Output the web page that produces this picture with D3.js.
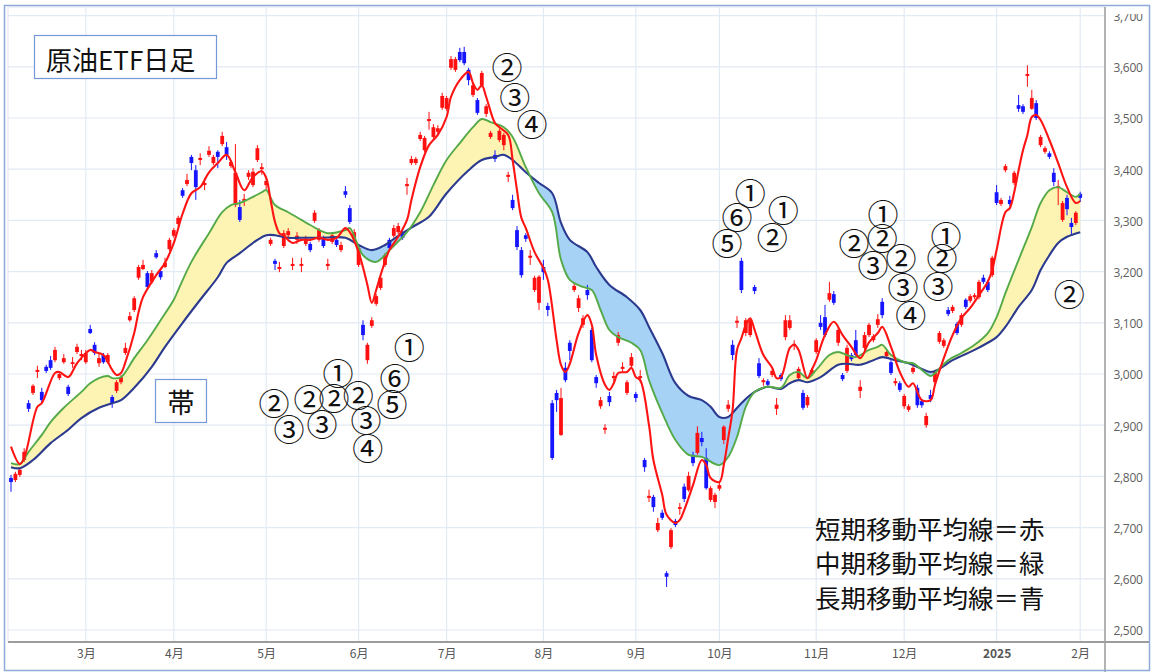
<!DOCTYPE html>
<html><head><meta charset="utf-8">
<script src="https://cdn.jsdelivr.net/npm/d3@7"></script>
<style>body{margin:0;background:#fff}svg{display:block}</style>
</head><body><svg id="c" width="1152" height="672"></svg>
<script>
// ---------------- data ----------------
const open=[
2797,2793,2803,2832,2943,2963,3004,2965,3014,3027,
3027,2992,3023,2975,3020,3043,3035,3023,3088,3057,
3021,3037,3023,2955,2967,2984,3041,3105,3125,3188,
3205,3197,3180,3236,3201,3209,3244,3270,3293,3359,
3371,3424,3398,3418,3369,3428,3412,3434,3449,3443,
3406,3330,3326,3338,3385,3369,3418,3400,3369,3254,
3221,3205,3250,3271,3211,3262,3211,3254,3254,3299,
3262,3266,3211,3258,3262,3242,3357,3324,3266,3213,
3096,3027,3094,3137,3168,3213,3262,3270,3277,3277,
3367,3412,3412,3459,3437,3494,3463,3473,3520,3518,
3598,3594,3629,3629,3594,3545,3535,3564,3508,3463,
3428,3457,3447,3385,3340,3281,3242,3271,3227,3164,
3139,3209,3133,2943,2963,2881,3012,3061,3164,3129,
3096,3164,3086,2994,2937,2891,2957,2992,3061,3010,
2963,3016,2961,2992,2832,2758,2760,2695,2729,2611,
2662,2713,2737,2780,2773,2842,2846,2875,2836,2754,
2750,2776,2871,2932,3057,3100,3221,3080,3076,3170,
3021,2984,2986,2998,2932,2998,3072,3090,3055,2992,
2963,2939,3000,3043,3100,3111,3145,3156,3061,2998,
3006,3037,3066,2967,3051,3076,3066,3096,3141,3035,
3023,2982,2982,2937,2930,3004,2973,2947,2900,2959,
2984,3063,3055,3125,3123,3098,3096,3145,3143,3150,
3150,3188,3180,3193,3355,3332,3398,3340,3373,3525,
3523,3582,3518,3529,3447,3434,3431,3393,3363,3301,
3344,3295,3295,3352];
const close=[
2789,2805,2813,2848,2932,2977,3008,2949,3006,3012,
3047,3000,3031,2961,3023,3053,3039,3041,3080,3041,
3031,3023,3037,2943,2984,2994,3051,3113,3148,3209,
3213,3170,3197,3228,3189,3217,3262,3281,3305,3348,
3379,3412,3365,3422,3373,3436,3424,3424,3465,3428,
3414,3393,3301,3342,3393,3395,3441,3404,3377,3262,
3215,3209,3275,3279,3215,3270,3215,3264,3242,3315,
3281,3250,3215,3271,3252,3252,3350,3297,3277,3246,
3076,3057,3105,3152,3188,3232,3246,3285,3289,3266,
3371,3420,3420,3467,3461,3498,3482,3480,3543,3539,
3615,3615,3613,3607,3574,3564,3510,3588,3523,3471,
3420,3475,3467,3389,3324,3248,3193,3264,3231,3188,
3190,3199,3125,2836,2949,2953,2988,3045,3172,3148,
3109,3154,3027,2982,2949,2895,2945,2996,3076,3014,
2984,3033,2953,2996,2818,2762,2740,2709,2719,2604,
2695,2705,2740,2756,2801,2826,2885,2867,2777,2777,
2764,2783,2897,2940,3037,3104,3164,3105,3105,3162,
2996,2988,2979,3006,2940,2990,3105,3105,3059,3010,
2934,2955,3008,3066,3092,3076,3158,3139,3086,2990,
3051,3029,3037,2975,3076,3096,3074,3107,3115,3043,
3002,2986,2969,2957,2937,3012,2939,2939,2918,2951,
3004,3080,3066,3117,3131,3080,3115,3131,3152,3154,
3180,3180,3164,3227,3334,3340,3406,3332,3393,3518,
3512,3586,3539,3500,3463,3441,3424,3375,3367,3334,
3322,3287,3315,3344];
const high=[
2803,2809,2816,2855,2949,2980,3016,2973,3018,3035,
3053,3004,3039,2979,3033,3059,3047,3047,3096,3062,
3039,3041,3041,2959,2988,2998,3061,3121,3152,3213,
3223,3201,3203,3242,3207,3227,3266,3285,3309,3363,
3391,3428,3408,3431,3383,3445,3428,3437,3473,3453,
3418,3449,3340,3352,3398,3402,3447,3412,3383,3266,
3225,3219,3281,3285,3227,3277,3227,3270,3258,3320,
3285,3270,3225,3275,3266,3258,3367,3330,3283,3250,
3105,3061,3111,3156,3192,3236,3266,3291,3295,3281,
3383,3426,3424,3473,3465,3512,3488,3486,3549,3543,
3621,3619,3637,3639,3598,3568,3539,3592,3527,3475,
3437,3479,3471,3395,3350,3289,3248,3275,3242,3192,
3193,3223,3139,2949,2969,2973,3023,3066,3178,3154,
3115,3174,3090,2998,2955,2902,2965,3004,3082,3023,
2988,3041,2965,3008,2836,2774,2764,2719,2735,2615,
2699,2717,2748,2786,2809,2848,2898,2887,2855,2781,
2768,2789,2900,2949,3066,3113,3227,3109,3109,3174,
3031,2992,2990,3010,2953,3002,3115,3115,3066,3014,
2969,2959,3012,3070,3115,3135,3180,3162,3092,3002,
3057,3041,3086,2988,3082,3100,3078,3117,3148,3047,
3027,2992,2986,2961,2941,3016,2979,2951,2924,2969,
3008,3084,3070,3131,3135,3102,3119,3148,3156,3158,
3184,3194,3184,3231,3369,3344,3410,3348,3397,3545,
3527,3603,3555,3535,3467,3445,3435,3402,3379,3338,
3350,3305,3318,3356];
const low=[
2770,2789,2799,2828,2926,2959,2992,2945,3002,3008,
3023,2988,3020,2957,3012,3039,3027,3020,3078,3037,
3014,3020,3020,2934,2963,2980,3037,3102,3121,3184,
3203,3164,3176,3225,3184,3207,3240,3266,3289,3344,
3367,3398,3340,3408,3359,3424,3408,3402,3445,3418,
3402,3326,3297,3328,3379,3365,3414,3389,3359,3250,
3203,3199,3246,3266,3203,3254,3199,3250,3238,3295,
3258,3246,3203,3254,3248,3238,3344,3293,3262,3209,
3066,3020,3090,3133,3164,3209,3242,3266,3273,3262,
3350,3408,3408,3455,3433,3477,3459,3469,3516,3514,
3594,3590,3609,3603,3564,3541,3506,3560,3502,3459,
3414,3453,3437,3375,3320,3242,3188,3258,3213,3160,
3125,3184,3113,2832,2926,2879,2984,3027,3160,3121,
3090,3145,3023,2973,2932,2883,2937,2984,3055,3004,
2959,3012,2945,2984,2809,2750,2731,2691,2715,2584,
2658,2701,2725,2750,2770,2820,2842,2859,2774,2750,
2738,2772,2863,2926,3027,3090,3158,3074,3072,3156,
2992,2977,2973,2994,2920,2986,3066,3086,3047,2988,
2930,2934,2996,3039,3086,3072,3141,3135,3055,2986,
3002,3025,3033,2953,3047,3072,3062,3090,3109,3031,
2998,2977,2965,2932,2926,3000,2934,2934,2895,2945,
2980,3059,3051,3113,3119,3076,3092,3127,3139,3146,
3146,3176,3160,3189,3330,3328,3394,3328,3369,3512,
3508,3561,3516,3496,3443,3430,3420,3367,3330,3297,
3310,3271,3291,3336];

// moving averages: [trading-day index, price]
const maShort=[[0,2858],[2,2824],[3,2836],[6,2936],[7,2943],[10,3002],[11,3004],[13,2994],[15,3021],[18,3047],[19,3043],[21,3037],[23,3008],[24,2998],[25,3002],[26,3023],[28,3080],[29,3121],[30,3150],[33,3193],[35,3217],[37,3256],[39,3313],[41,3353],[43,3365],[45,3394],[47,3412],[49,3428],[51,3394],[53,3359],[55,3385],[57,3396],[58,3383],[59,3340],[60,3297],[61,3275],[62,3270],[64,3256],[66,3262],[68,3262],[70,3266],[72,3262],[74,3266],[76,3285],[77,3277],[79,3238],[81,3174],[82,3139],[83,3164],[84,3193],[86,3242],[88,3268],[90,3301],[91,3340],[93,3404],[95,3447],[97,3467],[99,3502],[100,3541],[102,3574],[104,3590],[105,3568],[106,3555],[107,3564],[108,3541],[110,3490],[111,3482],[113,3467],[114,3418],[115,3359],[116,3305],[117,3285],[119,3238],[121,3207],[122,3184],[124,3066],[125,3018],[126,3004],[127,3020],[129,3080],[131,3115],[132,3096],[133,3037],[135,2979],[136,2969],[137,2982],[138,3002],[140,3004],[141,3012],[142,2994],[143,2988],[145,2900],[146,2832],[148,2764],[149,2725],[151,2709],[152,2715],[153,2734],[155,2783],[157,2832],[158,2822],[159,2797],[161,2789],[162,2822],[163,2875],[164,2930],[165,3047],[166,3070],[167,3096],[168,3109],[169,3086],[171,3037],[173,3012],[174,2992],[175,2994],[177,3051],[178,3057],[179,3047],[181,2992],[182,3008],[183,3027],[185,3076],[187,3102],[189,3076],[191,3053],[193,3031],[195,3062],[197,3080],[198,3092],[200,3053],[202,3004],[204,2975],[205,2982],[207,2949],[209,2949],[210,2979],[212,3031],[214,3076],[216,3109],[218,3129],[220,3154],[222,3180],[223,3203],[224,3242],[226,3316],[227,3324],[228,3355],[229,3398],[230,3437],[231,3467],[232,3502],[233,3506],[234,3496],[236,3457],[238,3412],[240,3365],[242,3334],[243,3338]];
const maMid=[[0,2826],[2,2824],[4,2848],[7,2881],[9,2906],[12,2934],[16,2965],[18,2982],[20,2992],[22,2996],[23,2992],[25,2994],[28,3031],[31,3066],[34,3105],[37,3145],[38,3164],[41,3219],[45,3275],[48,3316],[50,3330],[52,3334],[55,3346],[57,3355],[58,3359],[60,3330],[63,3316],[66,3301],[68,3291],[72,3275],[76,3281],[77,3285],[80,3232],[83,3219],[86,3242],[90,3277],[93,3316],[96,3369],[99,3418],[102,3451],[105,3482],[107,3498],[109,3492],[112,3482],[114,3463],[117,3404],[120,3353],[123,3316],[125,3223],[127,3184],[130,3170],[132,3164],[134,3125],[136,3086],[138,3072],[141,3061],[143,3047],[145,2988],[148,2924],[151,2871],[154,2842],[157,2838],[161,2822],[163,2838],[165,2877],[167,2936],[169,2965],[172,2975],[175,2973],[177,2998],[179,3004],[181,2992],[183,3008],[186,3037],[188,3043],[190,3037],[192,3033],[195,3047],[197,3053],[198,3057],[200,3037],[203,3023],[205,3021],[207,3008],[209,2996],[210,3002],[213,3027],[216,3041],[219,3057],[222,3080],[224,3111],[226,3158],[229,3223],[232,3287],[234,3334],[236,3359],[238,3365],[240,3355],[242,3346],[243,3352]];
const maLong=[[0,2818],[2,2816],[5,2832],[9,2865],[13,2891],[16,2914],[20,2934],[23,2943],[25,2949],[28,2973],[32,3014],[35,3053],[39,3100],[43,3145],[47,3189],[49,3217],[52,3236],[56,3262],[58,3271],[60,3271],[63,3266],[66,3266],[70,3266],[76,3266],[79,3252],[82,3242],[85,3252],[88,3270],[92,3291],[95,3307],[99,3353],[104,3398],[107,3418],[110,3424],[112,3428],[114,3418],[117,3394],[120,3373],[123,3353],[125,3295],[127,3262],[131,3238],[133,3209],[136,3174],[140,3150],[143,3125],[145,3092],[148,3041],[151,2982],[154,2957],[157,2949],[159,2936],[161,2916],[163,2916],[164,2924],[166,2943],[169,2965],[172,2975],[175,2971],[177,2982],[179,2988],[181,2984],[184,2994],[188,3018],[190,3020],[193,3018],[196,3027],[198,3033],[201,3027],[204,3021],[207,3010],[209,3004],[211,3010],[214,3027],[219,3047],[222,3061],[224,3072],[226,3092],[229,3131],[232,3164],[234,3203],[236,3232],[238,3256],[240,3268],[243,3277]];

const yTicks=[2500,2600,2700,2800,2900,3000,3100,3200,3300,3400,3500,3600,3700];
const monthIdx=[17,37,58,79,99,121,142,161,183,203,224,243];
const monthLabels=["3月","4月","5月","6月","7月","8月","9月","10月","11月","12月","2025","2月"];

// circled wave counts: [label, trading-day index, price]
const waveLabels=[
["②",112.7,3603],["③",114.5,3543],["④",118.4,3492],
["①",168,3357],["⑥",165,3309],["⑤",162.7,3258],["①",175.5,3324],["②",173,3270],
["①",198.2,3316],["②",191.6,3258],["②",198,3268],["③",195.9,3215],["②",202.3,3229],["③",202.7,3172],["④",204.5,3119],
["①",212.5,3273],["②",211.6,3229],["③",210.7,3174],["②",240.5,3160],
["①",90.5,3055],["⑥",87.3,2996],["⑤",86.6,2945],["①",74.3,3004],["②",59.8,2947],["②",67.7,2955],["②",73.4,2957],["②",78.9,2961],["③",63.2,2895],["③",70.7,2906],["③",80.7,2914],["④",81.1,2859]
];
const titleText="原油ETF日足";
const bandText="帯";
const legendLines=["短期移動平均線＝赤","中期移動平均線＝緑","長期移動平均線＝青"];

if(open.length!==244||close.length!==244||high.length!==244||low.length!==244)
  throw new Error("len "+open.length+" "+close.length+" "+high.length+" "+low.length);

// ---------------- drawing ----------------
const svg=d3.select("#c");
const P={l:8,t:7,r:1105,b:642};
const x=d3.scaleLinear().domain([0,243]).range([11,1080.2]);
const y=d3.scaleLinear().domain([2500,3700]).range([630,15.6]);
const CJK='"Noto Sans CJK JP","Noto Sans",sans-serif';

svg.append("rect").attr("width",1152).attr("height",672).attr("fill","#fff");

const defs=svg.append("defs");
defs.append("clipPath").attr("id","plotClip").append("rect")
  .attr("x",P.l).attr("y",P.t).attr("width",P.r-P.l).attr("height",P.b-P.t);

// grid
const grid=svg.append("g");
grid.selectAll("line.h").data(yTicks).join("line")
  .attr("x1",P.l).attr("x2",P.r).attr("y1",d=>y(d)).attr("y2",d=>y(d))
  .attr("stroke","#e2eaf3").attr("stroke-width",1.2);
grid.selectAll("line.v").data(monthIdx).join("line")
  .attr("x1",d=>x(d)).attr("x2",d=>x(d)).attr("y1",P.t).attr("y2",P.b)
  .attr("stroke","#e2eaf3").attr("stroke-width",1.2);
grid.append("line").attr("x1",P.l).attr("x2",P.r).attr("y1",P.t).attr("y2",P.t).attr("stroke","#dfe7f0");
grid.append("line").attr("x1",P.l).attr("x2",P.l).attr("y1",P.t).attr("y2",P.b).attr("stroke","#dfe7f0");

const g=svg.append("g").attr("clip-path","url(#plotClip)");
const pts=a=>a.map(([i,v])=>[x(i),y(v)]);
const lineGen=d3.line().curve(d3.curveCatmullRom.alpha(0.5));
const midP=pts(maMid), longP=pts(maLong), shortP=pts(maShort);
const band=lineGen(midP)+lineGen(longP.slice().reverse()).replace(/^M/,"L")+"Z";
const longPath=lineGen(longP);
const x0=x(0)-20,x1=x(243)+20;
defs.append("clipPath").attr("id","aboveLong").append("path")
  .attr("d",longPath+`L${x1},${longP[longP.length-1][1]}L${x1},0L${x0},0L${x0},${longP[0][1]}Z`);
defs.append("clipPath").attr("id","belowLong").append("path")
  .attr("d",longPath+`L${x1},${longP[longP.length-1][1]}L${x1},700L${x0},700L${x0},${longP[0][1]}Z`);
g.append("path").attr("d",band).attr("fill","#fdf3b3").attr("clip-path","url(#aboveLong)");
g.append("path").attr("d",band).attr("fill","#a5d2f5").attr("clip-path","url(#belowLong)");

// candles
const idx=d3.range(open.length);
const col=i=>close[i]>=open[i]?"#ff1010":"#1515ff";
const cg=g.append("g");
cg.selectAll("line").data(idx).join("line")
  .attr("x1",i=>x(i)).attr("x2",i=>x(i))
  .attr("y1",i=>y(high[i])).attr("y2",i=>y(low[i]))
  .attr("stroke",col).attr("stroke-width",1);
cg.selectAll("rect").data(idx).join("rect")
  .attr("x",i=>x(i)-1.9).attr("width",3.8)
  .attr("y",i=>y(Math.max(open[i],close[i])))
  .attr("height",i=>Math.max(1.8,Math.abs(y(open[i])-y(close[i]))))
  .attr("fill",col);

// MA lines
g.append("path").attr("d",longPath).attr("fill","none").attr("stroke","#2b3a8f").attr("stroke-width",2.1);
g.append("path").attr("d",lineGen(midP)).attr("fill","none").attr("stroke","#55aa48").attr("stroke-width",1.9);
g.append("path").attr("d",lineGen(shortP)).attr("fill","none").attr("stroke","#ff1414").attr("stroke-width",2.1);

// axes
const ya=svg.append("g").attr("transform","translate(1128,1)")
  .call(d3.axisRight(y).tickValues(yTicks).tickFormat(d3.format(",")).tickSize(0).tickPadding(0));
ya.select(".domain").remove();
defs.append("clipPath").attr("id","yLabClip").append("rect").attr("x",-25).attr("y",13).attr("width",50).attr("height",650);
ya.attr("clip-path","url(#yLabClip)");
ya.selectAll("text").attr("text-anchor","middle").attr("x",0)
  .attr("fill","#606060").style("font-size","12px").style("font-family","'Open Sans',sans-serif")
  .style("letter-spacing","-0.3px");
const xa=svg.append("g").attr("transform","translate(0,649)")
  .call(d3.axisBottom(x).tickValues(monthIdx).tickFormat((d,i)=>monthLabels[i]).tickSize(0).tickPadding(0));
xa.select(".domain").remove();
xa.selectAll("text").attr("fill","#555").style("font-size","12px").style("font-family",CJK)
  .style("font-weight",(d,i)=>monthLabels[i]==="2025"?"bold":"normal");

svg.append("line").attr("x1",P.r).attr("x2",P.r).attr("y1",P.t).attr("y2",672).attr("stroke","#8a8a8a").attr("stroke-width",1.3);
svg.append("line").attr("x1",P.l).attr("x2",1150).attr("y1",P.b).attr("y2",P.b).attr("stroke","#9c9c9c").attr("stroke-width",2);

// frame
svg.append("rect").attr("x",4.5).attr("y",5.5).attr("width",1145).attr("height",665)
  .attr("fill","none").attr("stroke","#8eaadb").attr("stroke-width",1.5);

// title box
svg.append("rect").attr("x",34.5).attr("y",35.5).attr("width",182).attr("height",43)
  .attr("fill","#fff").attr("stroke","#7399d6").attr("stroke-width",1.2);
svg.append("text").attr("x",46).attr("y",58).attr("dominant-baseline","central")
  .style("font-family",CJK).style("font-size","26px").attr("fill","#111").text(titleText);

// band box
svg.append("rect").attr("x",155.5).attr("y",379.5).attr("width",51).attr("height",43)
  .attr("fill","#fff").attr("stroke","#7399d6").attr("stroke-width",1.2);
svg.append("text").attr("x",181).attr("y",401).attr("text-anchor","middle").attr("dominant-baseline","central")
  .style("font-family",CJK).style("font-size","27px").attr("fill","#111").text(bandText);

// wave labels
svg.append("g").selectAll("text").data(waveLabels).join("text")
  .attr("x",d=>x(d[1])).attr("y",d=>y(d[2])).attr("text-anchor","middle").attr("dominant-baseline","central")
  .style("font-family",CJK).style("font-size","31px").attr("fill","#111").text(d=>d[0]);

// legend text
svg.append("g").selectAll("text").data(legendLines).join("text")
  .attr("x",815).attr("y",(d,i)=>527+i*34.5).attr("dominant-baseline","central")
  .style("font-family",CJK).style("font-size","25.5px").attr("fill","#111").text(d=>d);
</script></body></html>
